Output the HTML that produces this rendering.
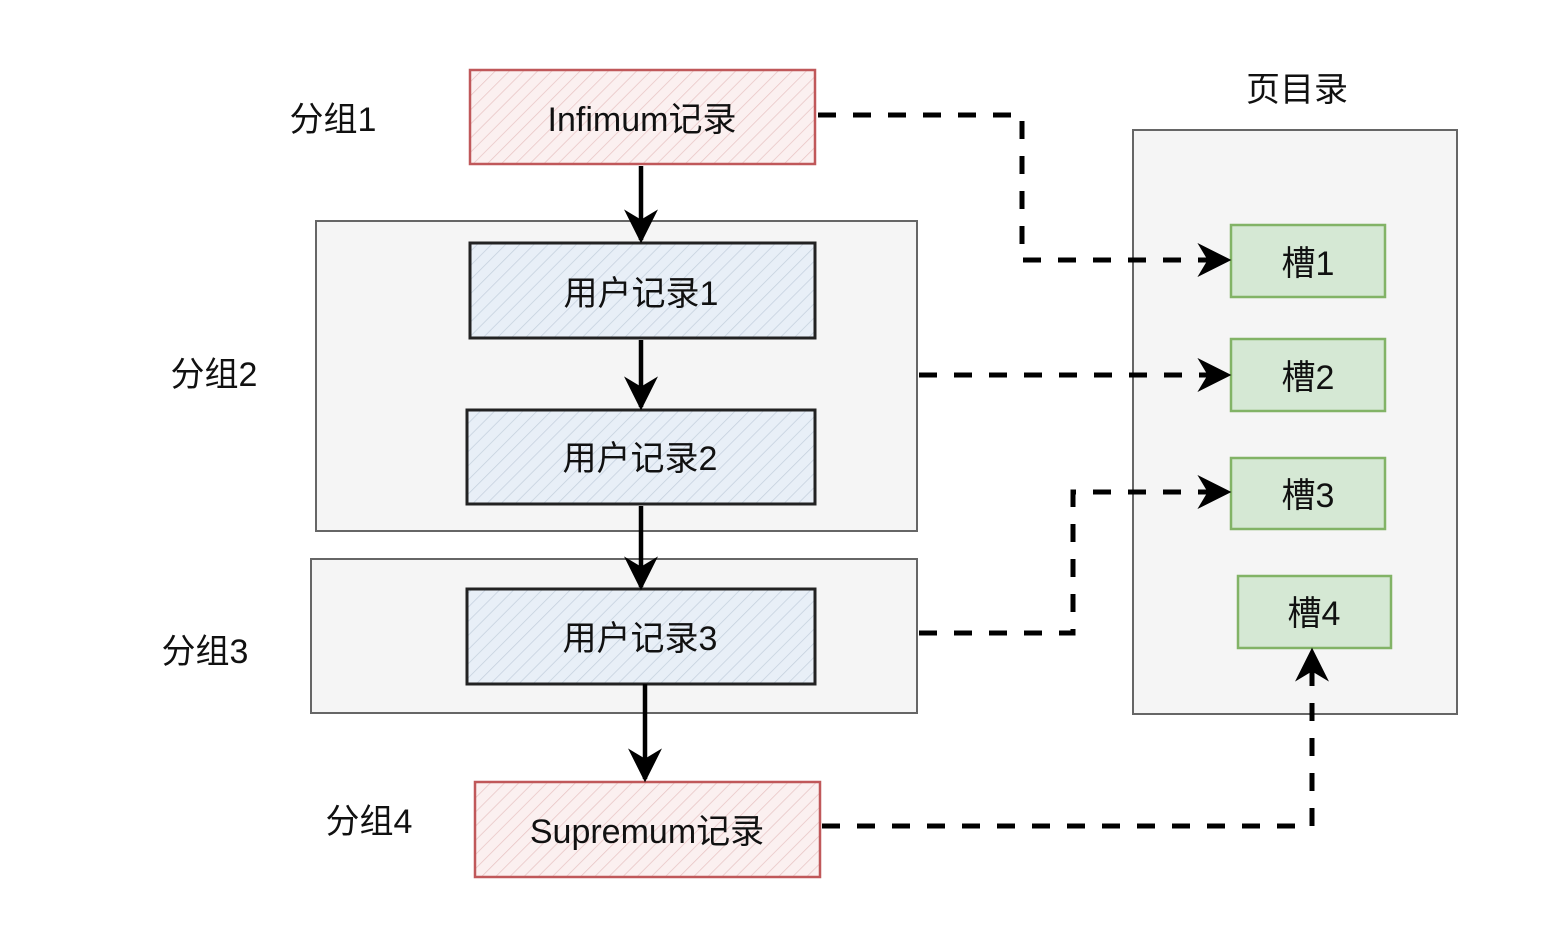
<!DOCTYPE html>
<html><head><meta charset="utf-8"><style>
html,body{margin:0;padding:0;background:#fff;}
svg{display:block;}
text{font-family:"Liberation Sans","Noto Sans CJK SC",sans-serif;fill:#111;}
</style></head><body>
<svg width="1553" height="941" viewBox="0 0 1553 941" xmlns="http://www.w3.org/2000/svg">
<defs>
<pattern id="hr" width="10" height="10" patternUnits="userSpaceOnUse" patternTransform="rotate(45)">
<rect width="10" height="10" fill="#fbf0f0"/><line x1="0" y1="0" x2="0" y2="10" stroke="#e8c4c4" stroke-width="1.5"/></pattern>
<pattern id="hb" width="10" height="10" patternUnits="userSpaceOnUse" patternTransform="rotate(45)">
<rect width="10" height="10" fill="#e8eff7"/><line x1="0" y1="0" x2="0" y2="10" stroke="#c4d0dd" stroke-width="1.5"/></pattern>
<marker id="ah" viewBox="0 0 20 20" refX="18" refY="10" markerWidth="34" markerHeight="34" markerUnits="userSpaceOnUse" orient="auto">
<path d="M0,0 L20,10 L0,20 L6,10 Z" fill="#000"/></marker>
</defs>

<rect x="316" y="221" width="601" height="310" fill="#f5f5f5" stroke="#666" stroke-width="2"/>
<rect x="311" y="559" width="606" height="154" fill="#f5f5f5" stroke="#666" stroke-width="2"/>
<rect x="1133" y="130" width="324" height="584" fill="#f5f5f5" stroke="#666" stroke-width="2"/>

<rect x="470" y="70" width="345" height="94" fill="url(#hr)" stroke="#c0585a" stroke-width="2.5"/>
<rect x="470" y="243" width="345" height="95" fill="url(#hb)" stroke="#222" stroke-width="3"/>
<rect x="467" y="410" width="348" height="94" fill="url(#hb)" stroke="#222" stroke-width="3"/>
<rect x="467" y="589" width="348" height="95" fill="url(#hb)" stroke="#222" stroke-width="3"/>
<rect x="475" y="782" width="345" height="95" fill="url(#hr)" stroke="#c0585a" stroke-width="2.5"/>

<text x="642" y="131" font-size="34" text-anchor="middle">Infimum记录</text>
<text x="641" y="305" font-size="34" text-anchor="middle">用户记录1</text>
<text x="640" y="470" font-size="34" text-anchor="middle">用户记录2</text>
<text x="640" y="650" font-size="34" text-anchor="middle">用户记录3</text>
<text x="647" y="843" font-size="34" text-anchor="middle">Supremum记录</text>

<text x="333" y="131" font-size="34" text-anchor="middle">分组1</text>
<text x="214" y="386" font-size="34" text-anchor="middle">分组2</text>
<text x="205" y="663" font-size="34" text-anchor="middle">分组3</text>
<text x="369" y="833" font-size="34" text-anchor="middle">分组4</text>
<text x="1297" y="101" font-size="34" text-anchor="middle">页目录</text>

<rect x="1231" y="225" width="154" height="72" fill="#d5e8d4" stroke="#82b366" stroke-width="2.5"/>
<rect x="1231" y="339" width="154" height="72" fill="#d5e8d4" stroke="#82b366" stroke-width="2.5"/>
<rect x="1231" y="458" width="154" height="71" fill="#d5e8d4" stroke="#82b366" stroke-width="2.5"/>
<rect x="1238" y="576" width="153" height="72" fill="#d5e8d4" stroke="#82b366" stroke-width="2.5"/>
<text x="1308" y="275" font-size="34" text-anchor="middle">槽1</text>
<text x="1308" y="389" font-size="34" text-anchor="middle">槽2</text>
<text x="1308" y="507" font-size="34" text-anchor="middle">槽3</text>
<text x="1314" y="625" font-size="34" text-anchor="middle">槽4</text>

<g stroke="#000" stroke-width="4.5" fill="none">
<line x1="641" y1="166" x2="641" y2="240" marker-end="url(#ah)"/>
<line x1="641" y1="340" x2="641" y2="407" marker-end="url(#ah)"/>
<line x1="641" y1="506" x2="641" y2="587" marker-end="url(#ah)"/>
<line x1="645" y1="684" x2="645" y2="779" marker-end="url(#ah)"/>
</g>

<g stroke="#000" stroke-width="5" fill="none" stroke-dasharray="18 17">
<polyline points="818,115 1022,115 1022,260 1228,260" marker-end="url(#ah)"/>
<polyline points="919,375 1228,375" marker-end="url(#ah)"/>
<polyline points="919,633 1073,633 1073,492 1228,492" marker-end="url(#ah)"/>
<polyline points="822,826 1312,826 1312,651" marker-end="url(#ah)"/>
</g>
</svg>
</body></html>
